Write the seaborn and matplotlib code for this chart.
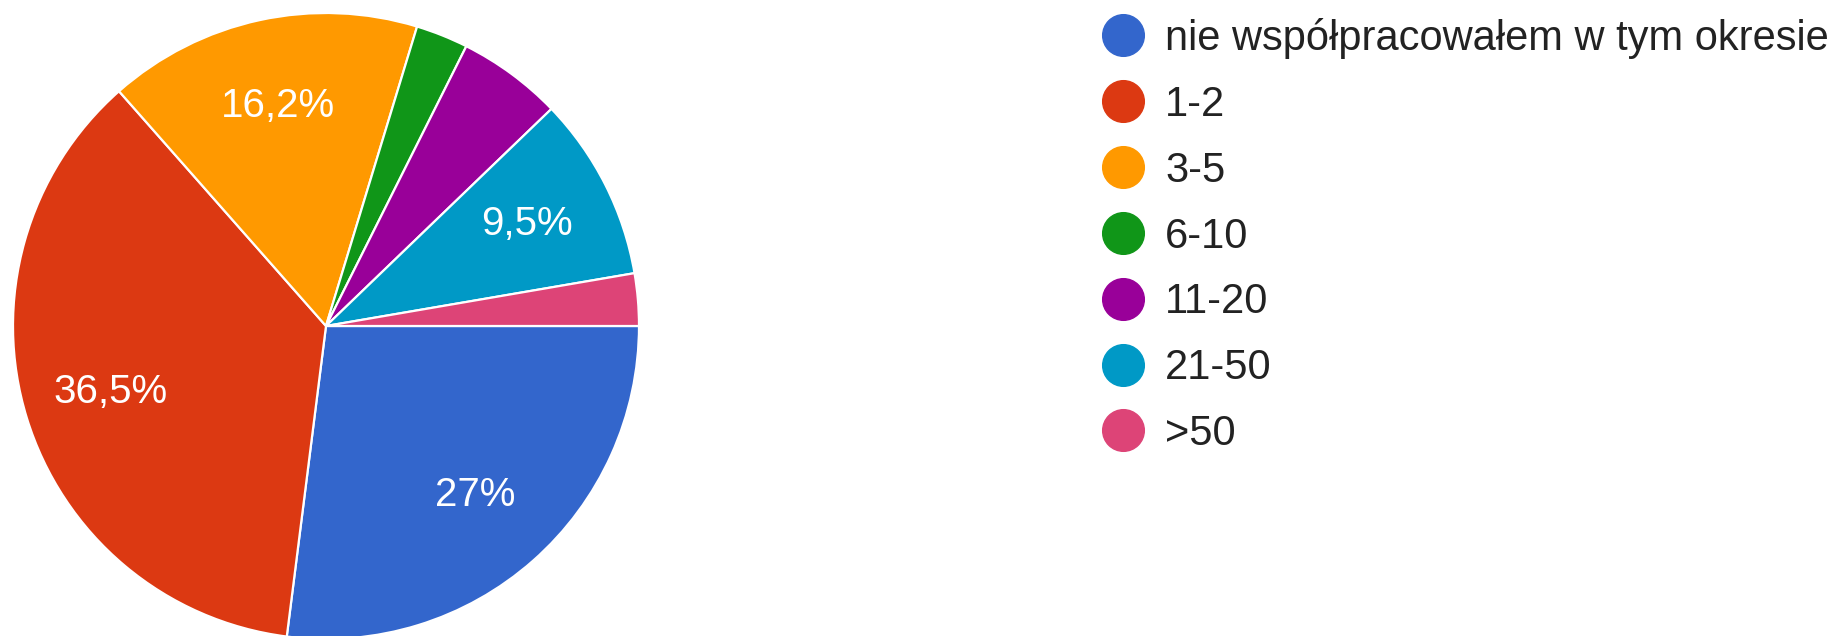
import matplotlib
matplotlib.use('Agg')
import matplotlib.pyplot as plt
import seaborn as sns
from matplotlib.lines import Line2D

# answers: "ile razy współpracowałeś..." (Google Forms pie)
categories = ['nie współpracowałem w tym okresie', '1-2', '3-5', '6-10', '11-20', '21-50', '>50']
percent = [27.0, 36.5, 16.2, 2.7, 5.4, 9.5, 2.7]
colors = ['#3366cc', '#dc3912', '#ff9900', '#109618', '#990099', '#0099c6', '#dd4477']

sns.set_theme(style='white')
plt.rcParams['font.family'] = ['Liberation Sans', 'DejaVu Sans']
palette = sns.color_palette(colors)

W, H = 1837, 636
fig = plt.figure(figsize=(W / 100, H / 100), dpi=100)
# square axes holding the pie, in pixel terms
cx, cy, r = 326, 326, 313
ax = fig.add_axes([(cx - r) / W, (H - cy - r) / H, 2 * r / W, 2 * r / H])


def fmt(p):
    if p < 6:
        return ''
    s = f'{p:.1f}'.rstrip('0').rstrip('.')
    return s.replace('.', ',') + '%'


wedges, _, autotexts = ax.pie(percent, colors=palette, startangle=0, counterclock=False,
                              autopct=fmt, pctdistance=0.72, radius=1,
                              wedgeprops=dict(edgecolor='white', linewidth=1.6))
for t in autotexts:
    t.set_color('white')
    t.set_fontsize(29)
ax.set_xlim(-1, 1)
ax.set_ylim(-1, 1)
ax.axis('off')

handles = [Line2D([], [], marker='o', linestyle='', markersize=30, markerfacecolor=c,
                  markeredgecolor=c) for c in palette]
fig.legend(handles, categories, loc='upper left', bbox_to_anchor=(1100 / W, 1 - 18 / H),
           frameon=False, fontsize=30, handlelength=1.1, handletextpad=0.46,
           labelspacing=0.62, borderpad=0, borderaxespad=0, labelcolor='#222222')

fig.savefig('out.png', dpi=100, facecolor='white')
